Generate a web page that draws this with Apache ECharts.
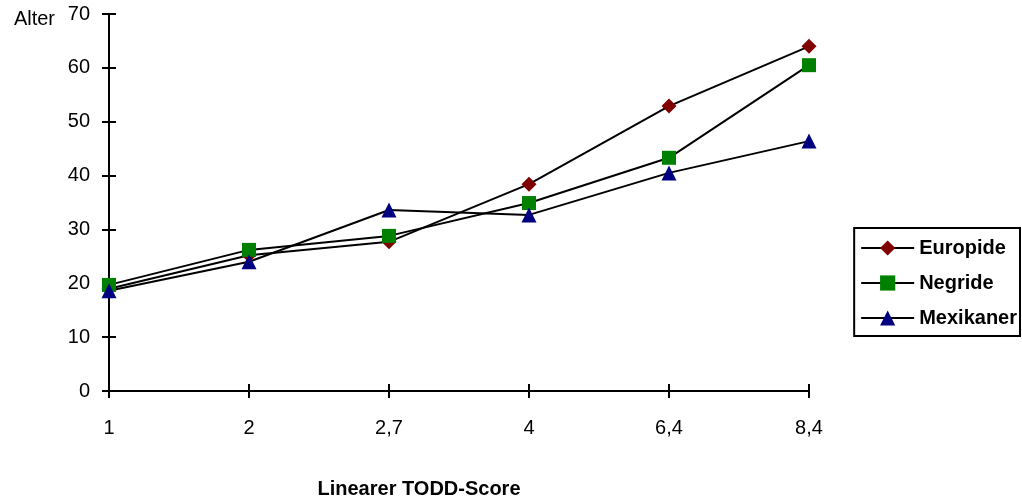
<!DOCTYPE html>
<html>
<head>
<meta charset="utf-8">
<script src="https://cdn.jsdelivr.net/npm/echarts@6/dist/echarts.min.js"></script>
<style>
html,body{margin:0;padding:0;background:#fff;}
#chart{width:1022px;height:497px;}
</style>
</head>
<body>
<div id="chart"></div>
<script>
// Linear TODD score categories and mean age per group
const categories = ['1', '2', '2,7', '4', '6,4', '8,4'];
const europide  = [19.0, 25.2, 27.7, 38.4, 52.9, 64.0];
const negride   = [19.7, 26.2, 28.8, 34.9, 43.3, 60.5];
const mexikaner = [18.6, 24.0, 33.6, 32.7, 40.5, 46.4];
const yTicks = { min: 0, max: 70, interval: 10 };

const font = 'Liberation Sans, Arial, sans-serif';
const tickStyle = { color: '#000', width: 2 };

function lineSeries(name, data, symbol, size, color) {
  return {
    name: name,
    type: 'line',
    xAxisIndex: 0,
    yAxisIndex: 0,
    data: data,
    symbol: symbol,
    symbolSize: size,
    itemStyle: { color: color },
    lineStyle: { color: '#000', width: 2 },
    emphasis: { disabled: true },
    animation: false,
    z: 3
  };
}

const chart = echarts.init(document.getElementById('chart'), null, { renderer: 'canvas' });
chart.setOption({
  backgroundColor: '#fff',
  animation: false,
  grid: { left: 109, right: 213, top: 14, bottom: 106, containLabel: false, outerBoundsMode: 'none' },
  legend: {
    orient: 'vertical',
    right: 2,
    top: 228,
    itemWidth: 53,
    itemHeight: 19,
    itemGap: 15,
    padding: [10, 3, 8, 6],
    borderColor: '#000',
    borderWidth: 2,
    borderRadius: 0,
    textStyle: { fontFamily: font, fontSize: 20, fontWeight: 'bold', color: '#000' },
    data: ['Europide', 'Negride', 'Mexikaner']
  },
  xAxis: [{
    type: 'category',
    data: categories,
    boundaryGap: false,
    name: 'Linearer TODD-Score',
    nameLocation: 'middle',
    nameGap: 88,
    nameTextStyle: { fontFamily: font, fontSize: 20, fontWeight: 'bold', color: '#000', padding: [0, 80, 0, 0] },
    axisLine: { onZero: false, lineStyle: { color: '#000', width: 2 } },
    axisTick: { show: false },
    axisLabel: { fontFamily: font, fontSize: 20, color: '#000', margin: 27 },
    splitLine: { show: false }
  }, {
    // tick marks crossing the x axis line
    type: 'category',
    data: categories,
    boundaryGap: false,
    position: 'bottom',
    offset: -7,
    axisLine: { show: false, onZero: false },
    axisTick: { show: true, alignWithLabel: true, length: 14, lineStyle: tickStyle },
    axisLabel: { show: false },
    splitLine: { show: false }
  }],
  yAxis: [{
    type: 'value',
    min: yTicks.min, max: yTicks.max, interval: yTicks.interval,
    name: 'Alter',
    nameLocation: 'end',
    nameGap: -5,
    nameTextStyle: { fontFamily: font, fontSize: 20, color: '#000', align: 'right', verticalAlign: 'middle', padding: [0, 54, 0, 0] },
    axisLine: { show: true, onZero: false, lineStyle: { color: '#000', width: 2 } },
    axisTick: { show: false },
    axisLabel: { fontFamily: font, fontSize: 20, color: '#000', margin: 19 },
    splitLine: { show: false }
  }, {
    // tick marks crossing the y axis line
    type: 'value',
    min: yTicks.min, max: yTicks.max, interval: yTicks.interval,
    position: 'left',
    offset: -7,
    axisLine: { show: false, onZero: false },
    axisTick: { show: true, length: 14, lineStyle: tickStyle },
    axisLabel: { show: false },
    splitLine: { show: false }
  }],
  series: [
    lineSeries('Europide', europide, 'diamond', 15, '#800000'),
    lineSeries('Negride', negride, 'rect', 14, '#008000'),
    lineSeries('Mexikaner', mexikaner, 'triangle', 15, '#000080')
  ]
});
</script>
</body>
</html>
